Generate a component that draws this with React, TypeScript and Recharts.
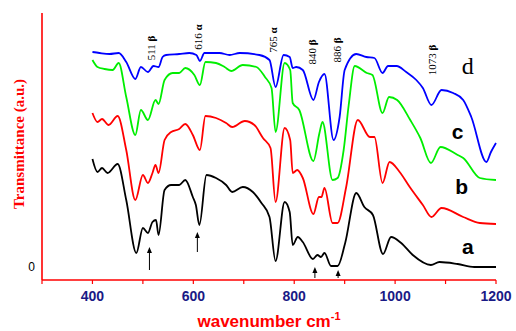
import React from 'react';
import { LineChart, Line, XAxis, YAxis, ReferenceDot, ReferenceLine } from 'recharts';

// wavenumbers (cm-1) and transmittance (a.u., curves stacked with offsets)
const waveA = [400, 410, 419, 430, 450, 467, 487, 500, 510, 519, 526, 531, 543, 556, 572, 584, 599, 605, 612, 626, 645, 665, 677, 698, 718, 735, 751, 763, 781, 791, 797, 807, 817, 837, 846, 853, 860, 873, 886, 901, 923, 939, 956, 976, 992, 1012, 1035, 1071, 1088, 1124, 1157, 1200];
const transA = [108, 95, 99, 94, 103, 67, 14, 39, 34, 45, 47, 32, 77, 82, 82, 87, 70, 62, 42, 92, 89, 82, 75, 80, 75, 64, 50, 6, 65, 55, 22, 30, 25, 8, 12, 10, 14, 1, 1, 24, 74, 60, 52, 13, 30, 24, 12, 2, 5, 3, 0, 0];

const waveB = [400, 410, 419, 432, 450, 467, 485, 500, 510, 519, 525, 531, 543, 556, 572, 584, 599, 613, 624, 645, 665, 677, 702, 721, 738, 753, 763, 781, 792, 797, 806, 817, 838, 849, 854, 860, 876, 886, 903, 926, 950, 959, 975, 989, 1009, 1029, 1055, 1072, 1092, 1135, 1168, 1200];
const transB = [154, 145, 148, 142, 151, 117, 67, 92, 84, 94, 102, 94, 127, 135, 138, 143, 132, 117, 151, 149, 144, 140, 146, 142, 129, 119, 65, 139, 127, 94, 97, 89, 53, 70, 70, 79, 44, 44, 80, 147, 130, 130, 84, 105, 95, 80, 62, 50, 59, 50, 44, 43];

const waveC = [400, 410, 424, 440, 452, 467, 485, 496, 510, 525, 531, 543, 559, 572, 584, 602, 613, 624, 645, 662, 675, 698, 725, 742, 755, 763, 781, 792, 797, 810, 838, 850, 856, 876, 886, 898, 908, 920, 944, 955, 975, 988, 1004, 1030, 1050, 1071, 1090, 1124, 1135, 1168, 1200];
const transC = [207, 200, 198, 197, 204, 170, 132, 157, 147, 167, 163, 187, 194, 194, 199, 192, 182, 205, 204, 200, 196, 202, 200, 190, 179, 135, 204, 197, 164, 157, 106, 134, 145, 87, 89, 117, 162, 201, 194, 192, 154, 170, 167, 147, 129, 104, 120, 112, 109, 89, 87];

const waveD = [400, 414, 434, 452, 467, 485, 496, 510, 521, 531, 539, 546, 572, 592, 606, 613, 622, 652, 672, 692, 731, 751, 763, 779, 791, 797, 804, 817, 838, 849, 860, 878, 890, 900, 923, 943, 959, 975, 986, 1003, 1022, 1042, 1055, 1072, 1092, 1115, 1135, 1151, 1181, 1190, 1200];
const transD = [215, 214, 213, 214, 205, 188, 200, 195, 201, 200, 210, 212, 213, 214, 212, 206, 214, 214, 212, 214, 212, 207, 180, 212, 210, 199, 200, 197, 167, 185, 193, 127, 150, 197, 213, 210, 209, 194, 201, 201, 195, 187, 179, 162, 177, 174, 167, 150, 105, 115, 124];

const xTicks = [300, 400, 500, 600, 700, 800, 900, 1000, 1100, 1200];
const xLabelled = [400, 600, 800, 1000, 1200];

const bands = [
  { x: 517, y: 219, num: '511', sym: 'β' },
  { x: 610, y: 230, num: '616', sym: 'α' },
  { x: 757, y: 227, num: '765', sym: 'α' },
  { x: 835, y: 215, num: '840', sym: 'β' },
  { x: 884, y: 217, num: '886', sym: 'β' },
  { x: 1073, y: 207, num: '1073', sym: 'β' },
];

const arrows = [
  { x: 513, from: -3, to: 20 },
  { x: 608, from: 15, to: 35 },
  { x: 841, from: -11, to: 0 },
  { x: 887, from: -11, to: -3 },
];

const curveLabels = [
  { x: 1144, y: 201, text: 'd', serif: true },
  { x: 1124, y: 136, text: 'c', serif: false },
  { x: 1132, y: 81, text: 'b', serif: false },
  { x: 1144, y: 21, text: 'a', serif: false },
];

const zip = (xs: number[], ys: number[]) => xs.map((x, i) => ({ x, y: ys[i] }));

const series = [
  { name: 'a', data: zip(waveA, transA), color: '#000000' },
  { name: 'b', data: zip(waveB, transB), color: '#ff0000' },
  { name: 'c', data: zip(waveC, transC), color: '#00ee00' },
  { name: 'd', data: zip(waveD, transD), color: '#0000ff' },
];

const serif = '"Liberation Serif", "DejaVu Serif", serif';
const sans = '"Liberation Sans", Arial, sans-serif';

const Arrow = (p: any) => {
  const { x1, y1, x2, y2 } = p;
  return (
    <g>
      <line x1={x1} y1={y1} x2={x2} y2={y2 + 4} stroke="#000" strokeWidth={1} />
      <path d={`M${x2},${y2} L${x2 - 2.5},${y2 + 6} L${x2 + 2.5},${y2 + 6} Z`} fill="#000" />
    </g>
  );
};

export default function App() {
  return (
    <div style={{ position: 'absolute', left: 0, top: 0 }}>
      <LineChart width={516} height={331} margin={{ top: 13, right: 20, bottom: 6, left: 0 }}>
        <XAxis
          type="number"
          dataKey="x"
          domain={[300, 1200]}
          ticks={xTicks}
          tickFormatter={(v: number) => (xLabelled.includes(v) ? String(v) : '')}
          axisLine={{ stroke: '#ff0000', strokeWidth: 1.6 }}
          tickLine={{ stroke: '#ff0000', strokeWidth: 1.2 }}
          tickSize={4}
          tickMargin={7}
          height={45}
          tick={{ fill: '#1a1a86', fontSize: 14, fontWeight: 'bold', fontFamily: sans }}
          label={{
            content: (props: any) => {
              const vb = props.viewBox;
              return (
                <text
                  x={vb.x + vb.width / 2}
                  y={vb.y + 47}
                  textAnchor="middle"
                  fill="#ff0000"
                  fontSize={17}
                  fontWeight="bold"
                  fontFamily={sans}
                >
                  wavenumber cm
                  <tspan fontSize={11} dy={-7}>-1</tspan>
                </text>
              );
            },
          }}
        />
        <YAxis
          type="number"
          domain={[-13, 254]}
          ticks={[0]}
          width={42}
          axisLine={{ stroke: '#ff0000', strokeWidth: 1.6 }}
          tickLine={false}
          tickSize={4}
          tickMargin={3}
          tick={{ fill: '#000', fontSize: 12, fontFamily: sans }}
          label={{
            content: () => (
              <text
                x={24}
                y={144}
                transform="rotate(-90, 24, 144)"
                textAnchor="middle"
                fill="#ff0000"
                fontSize={15}
                fontWeight="bold"
                fontFamily={serif}
              >
                Transmittance (a.u.)
              </text>
            ),
          }}
        />
        {series.map((s) => (
          <Line
            key={s.name}
            data={s.data}
            dataKey="y"
            type="monotone"
            stroke={s.color}
            strokeWidth={1.8}
            dot={false}
            isAnimationActive={false}
          />
        ))}
        {arrows.map((a, i) => (
          <ReferenceLine
            key={'ar' + i}
            segment={[{ x: a.x, y: a.from }, { x: a.x, y: a.to }]}
            ifOverflow="visible"
            shape={Arrow}
          />
        ))}
        {bands.map((b) => (
          <ReferenceDot
            key={b.num}
            x={b.x}
            y={b.y}
            r={0}
            ifOverflow="visible"
            shape={(p: any) => (
              <text
                x={p.cx}
                y={p.cy}
                transform={`rotate(-90, ${p.cx}, ${p.cy})`}
                textAnchor="middle"
                dominantBaseline="central"
                fontSize={11}
                fontFamily={serif}
                fill="#000"
              >
                {b.num} <tspan fontWeight="bold">{b.sym}</tspan>
              </text>
            )}
          />
        ))}
        {curveLabels.map((c) => (
          <ReferenceDot
            key={c.text}
            x={c.x}
            y={c.y}
            r={0}
            ifOverflow="visible"
            shape={(p: any) => (
              <text
                x={p.cx}
                y={p.cy}
                textAnchor="middle"
                dominantBaseline="central"
                fontSize={c.serif ? 24 : 21}
                fontWeight={c.serif ? 'normal' : 'bold'}
                fontFamily={c.serif ? serif : sans}
                fill="#000"
              >
                {c.text}
              </text>
            )}
          />
        ))}
      </LineChart>
    </div>
  );
}
